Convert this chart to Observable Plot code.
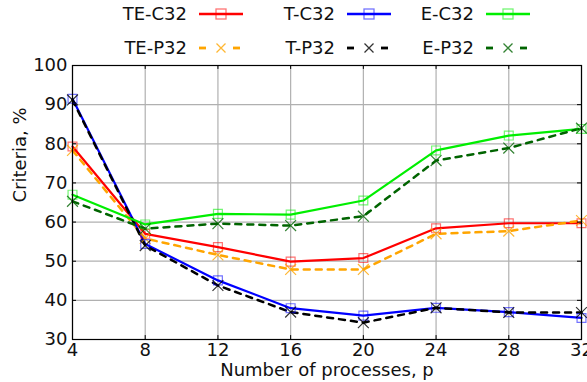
<!DOCTYPE html>
<html>
<head>
<meta charset="utf-8">
<script src="https://cdn.jsdelivr.net/npm/d3@7"></script>
<script src="https://cdn.jsdelivr.net/npm/@observablehq/plot@0.6"></script>
<style>
  body { margin: 0; background: white; font-family: "DejaVu Sans", sans-serif; }
  #legend { position: relative; width: 587px; height: 60px; }
  .lab { position: absolute; font-size: 18px; line-height: 22px; text-align: right; width: 120px; color: #111; white-space: nowrap; }
  .sw { position: absolute; }
</style>
</head>
<body>
<div id="legend"></div>
<div id="chart"></div>
<script>
const processes = [4, 8, 12, 16, 20, 24, 28, 32];
const teC32 = [79.3, 57.0, 53.6, 49.9, 50.8, 58.4, 59.7, 59.7];
const teP32 = [78.3, 55.8, 51.6, 47.9, 47.9, 57.0, 57.7, 60.4];
const tC32  = [91.5, 54.4, 45.1, 38.0, 36.1, 38.1, 37.0, 35.5];
const tP32  = [91.2, 54.0, 43.8, 37.0, 34.3, 38.1, 36.9, 36.9];
const eC32  = [67.0, 59.4, 62.1, 61.9, 65.5, 78.3, 82.1, 83.8];
const eP32  = [65.3, 58.3, 59.6, 59.1, 61.5, 75.7, 78.9, 84.0];
const xTicks = [4, 8, 12, 16, 20, 24, 28, 32];
const yTicks = [30, 40, 50, 60, 70, 80, 90, 100];

const series = [
  {name: "TE-C32", values: teC32, color: "#ff0000", dashed: false, col: 0, row: 0},
  {name: "TE-P32", values: teP32, color: "#ffa500", dashed: true,  col: 0, row: 1},
  {name: "T-C32",  values: tC32,  color: "#0000ff", dashed: false, col: 1, row: 0},
  {name: "T-P32",  values: tP32,  color: "#000000", dashed: true,  col: 1, row: 1},
  {name: "E-C32",  values: eC32,  color: "#00ee00", dashed: false, col: 2, row: 0},
  {name: "E-P32",  values: eP32,  color: "#006400", dashed: true,  col: 2, row: 1}
];

// Legend (HTML)
const legend = document.getElementById("legend");
const colEnds = [187, 335, 474];
const rowMid = [14, 48];
for (const s of series) {
  const lab = document.createElement("div");
  lab.className = "lab";
  lab.textContent = s.name;
  lab.style.left = (colEnds[s.col] - 120) + "px";
  lab.style.top = (rowMid[s.row] - 10.6) + "px";
  legend.appendChild(lab);
  const ns = "http://www.w3.org/2000/svg";
  const svg = document.createElementNS(ns, "svg");
  svg.setAttribute("width", 46);
  svg.setAttribute("height", 20);
  svg.setAttribute("class", "sw");
  svg.style.left = (colEnds[s.col] + 12) + "px";
  svg.style.top = (rowMid[s.row] - 10) + "px";
  let inner = "";
  if (!s.dashed) {
    inner += `<line x1="0" x2="44" y1="10" y2="10" stroke="${s.color}" stroke-width="2.4"/>`;
    inner += `<rect x="17" y="5" width="10" height="10" fill="none" stroke="${s.color}" stroke-opacity="0.55" stroke-width="1.3"/>`;
  } else {
    inner += `<line x1="0" x2="7" y1="10" y2="10" stroke="${s.color}" stroke-width="2.8"/>`;
    inner += `<line x1="34" x2="41" y1="10" y2="10" stroke="${s.color}" stroke-width="2.8"/>`;
    inner += `<path d="M17.5,5.5L26.5,14.5M26.5,5.5L17.5,14.5" stroke="${s.color}" stroke-opacity="0.8" stroke-width="1.3"/>`;
  }
  svg.innerHTML = inner;
  legend.appendChild(svg);
}

// Data table
const rows = [];
for (const s of series) {
  processes.forEach((p, i) => rows.push({series: s.name, p, v: s.values[i]}));
}

const lineMarks = [];
const dotMarks = [];
for (const s of series) {
  const d = rows.filter(r => r.series === s.name);
  lineMarks.push(Plot.line(d, {x: "p", y: "v", stroke: s.color, strokeWidth: s.dashed ? 2.5 : 2.2,
    strokeDasharray: s.dashed ? "6,6" : null}));
  dotMarks.push(Plot.dot(d, {x: "p", y: "v", symbol: s.dashed ? "times" : "square", r: 5,
    stroke: s.color, strokeOpacity: s.dashed ? 0.8 : 0.55, strokeWidth: 1.2, fill: "none"}));
}

const chart = Plot.plot({
  width: 587,
  height: 322,
  marginTop: 5,
  marginBottom: 43,
  marginLeft: 72,
  marginRight: 6,
  style: {fontFamily: "DejaVu Sans, sans-serif", fontSize: "18px", background: "white", color: "#111", overflow: "visible"},
  x: {domain: [4, 32]},
  y: {domain: [30, 100]},
  marks: [
    Plot.gridX(xTicks, {stroke: "#b0b0b0", strokeOpacity: 1, strokeWidth: 1.2}),
    Plot.gridY(yTicks, {stroke: "#b0b0b0", strokeOpacity: 1, strokeWidth: 1.2}),
    ...lineMarks,
    ...dotMarks,
    Plot.ruleX(xTicks, {x: d => d, y1: 30, y2: 31, stroke: "black"}),
    Plot.ruleX(xTicks, {x: d => d, y1: 100, y2: 99, stroke: "black"}),
    Plot.ruleY(yTicks, {y: d => d, x1: 4, x2: 4.22, stroke: "black"}),
    Plot.ruleY(yTicks, {y: d => d, x1: 32, x2: 31.78, stroke: "black"}),
    Plot.frame({stroke: "black", strokeWidth: 1.2}),
    Plot.axisX(xTicks, {tickSize: 0, tickPadding: 4, fontSize: 18, label: null}),
    Plot.axisY(yTicks, {tickSize: 0, tickPadding: 5, fontSize: 18, label: null}),
    Plot.text(["Number of processes, p"], {text: d => d, frameAnchor: "bottom", dy: 31, fontSize: 18, lineAnchor: "middle"}),
    Plot.text(["Criteria, %"], {text: d => d, frameAnchor: "left", dx: -52, rotate: -90, fontSize: 18, lineAnchor: "middle"})
  ]
});
document.getElementById("chart").appendChild(chart);
</script>
</body>
</html>
